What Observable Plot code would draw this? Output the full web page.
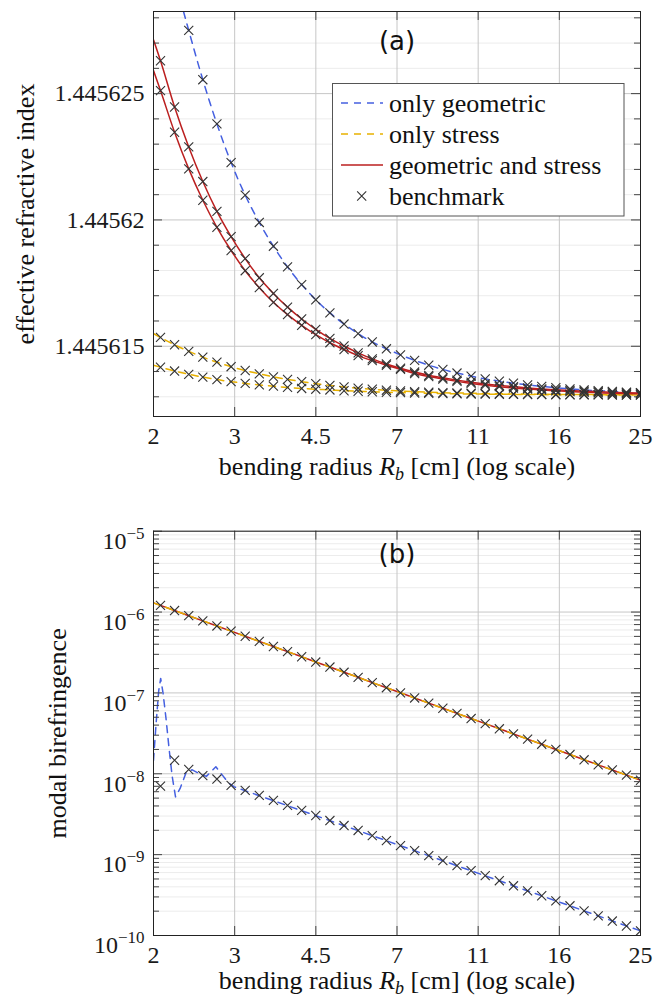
<!DOCTYPE html>
<html>
<head>
<meta charset="utf-8">
<script src="https://cdn.jsdelivr.net/npm/d3@7"></script>
<script src="https://cdn.jsdelivr.net/npm/@observablehq/plot@0.6"></script>
<style>
  body { margin: 0; background: #fff; }
  #wrap { position: relative; width: 664px; height: 1002px; overflow: hidden; }
  #wrap svg { display: block; }
</style>
</head>
<body>
<div id="wrap"></div>
<script>
// ---------------- DATA ----------------
// bending radii of the benchmark points [cm]
const radiusMarkers = [2.074, 2.231, 2.401, 2.583, 2.779, 2.991, 3.218, 3.462, 3.725, 4.008,
  4.313, 4.640, 4.993, 5.373, 5.780, 6.220, 6.693, 7.201, 7.748, 8.337,
  8.970, 9.652, 10.385, 11.174, 12.023, 12.937, 13.920, 14.978, 16.116, 17.341,
  18.659, 20.075, 21.601, 23.242, 25.0];
// radii of the model curves (start at 2 cm, then the benchmark radii)
const radiusCurve = [2.0, ...radiusMarkers];

// (a) effective refractive index, curves sampled at radiusCurve
const neffGeometric = [1.4456343, 1.4456320, 1.4456296, 1.4456275, 1.44562555, 1.4456238, 1.44562227, 1.44562098, 1.4456199, 1.44561896,
  1.44561814, 1.44561744, 1.44561684, 1.44561632, 1.44561588, 1.4456155, 1.44561517, 1.4456149, 1.44561466, 1.44561444,
  1.44561425, 1.44561408, 1.44561394, 1.44561382, 1.44561371, 1.44561362, 1.44561354, 1.44561347, 1.44561341, 1.44561336,
  1.44561331, 1.44561327, 1.44561324, 1.44561321, 1.44561318, 1.44561316];
const neffStressA = [1.4456155, 1.44561535, 1.44561506, 1.4456148, 1.44561457, 1.44561437, 1.44561419, 1.44561404, 1.44561391, 1.44561379,
  1.44561369, 1.4456136, 1.44561352, 1.44561345, 1.44561339, 1.44561334, 1.4456133, 1.44561326, 1.44561323, 1.4456132,
  1.44561318, 1.44561316, 1.44561315, 1.44561314, 1.44561313, 1.44561312, 1.44561311, 1.445613105, 1.4456131, 1.445613095,
  1.44561309, 1.44561309, 1.445613085, 1.445613085, 1.44561308, 1.44561308];
const neffStressB = [1.44561425, 1.44561417, 1.44561402, 1.44561389, 1.44561378, 1.44561368, 1.4456136, 1.44561353, 1.44561347, 1.44561342,
  1.44561337, 1.44561333, 1.4456133, 1.44561327, 1.44561324, 1.44561322, 1.4456132, 1.44561318, 1.445613165, 1.44561315,
  1.44561314, 1.44561313, 1.44561312, 1.44561311, 1.445613105, 1.4456131, 1.445613095, 1.44561309, 1.445613085, 1.44561308,
  1.44561308, 1.445613075, 1.445613075, 1.44561307, 1.44561307, 1.44561307];
const neffCombinedA = [1.44562713, 1.4456263, 1.44562447, 1.44562289, 1.44562152, 1.44562034, 1.44561934, 1.44561847, 1.44561771, 1.44561709,
  1.44561655, 1.44561608, 1.44561567, 1.44561531, 1.44561501, 1.44561474, 1.4456145, 1.4456143, 1.44561413, 1.44561398,
  1.44561385, 1.44561375, 1.44561366, 1.44561358, 1.44561351, 1.44561345, 1.4456134, 1.44561335, 1.44561331, 1.44561328,
  1.44561325, 1.44561322, 1.4456132, 1.44561318, 1.44561316, 1.44561315];
const neffCombinedB = [1.44562591, 1.44562512, 1.44562347, 1.44562202, 1.44562078, 1.44561971, 1.44561879, 1.44561799, 1.44561732, 1.44561674,
  1.44561625, 1.44561583, 1.44561546, 1.44561514, 1.44561487, 1.44561463, 1.44561443, 1.44561425, 1.44561409, 1.44561392,
  1.4456138, 1.4456137, 1.44561361, 1.44561353, 1.44561346, 1.4456134, 1.44561335, 1.44561331, 1.44561327, 1.44561324,
  1.44561321, 1.44561318, 1.44561316, 1.44561314, 1.44561313, 1.44561312];

// (b) modal birefringence
const birefStress = [1.30e-6, 1.209e-6, 1.044e-6, 9.02e-7, 7.79e-7, 6.73e-7, 5.81e-7, 5.02e-7, 4.34e-7, 3.75e-7,
  3.24e-7, 2.80e-7, 2.41e-7, 2.09e-7, 1.80e-7, 1.56e-7, 1.34e-7, 1.16e-7, 1.003e-7, 8.66e-8,
  7.48e-8, 6.46e-8, 5.58e-8, 4.82e-8, 4.17e-8, 3.60e-8, 3.11e-8, 2.68e-8, 2.32e-8, 2.00e-8,
  1.73e-8, 1.49e-8, 1.29e-8, 1.115e-8, 9.63e-9, 8.32e-9];
const birefCombined = [1.30e-6, 1.209e-6, 1.044e-6, 9.02e-7, 7.79e-7, 6.73e-7, 5.81e-7, 5.02e-7, 4.34e-7, 3.75e-7,
  3.24e-7, 2.80e-7, 2.41e-7, 2.09e-7, 1.80e-7, 1.56e-7, 1.34e-7, 1.16e-7, 1.003e-7, 8.66e-8,
  7.48e-8, 6.46e-8, 5.58e-8, 4.82e-8, 4.17e-8, 3.60e-8, 3.11e-8, 2.68e-8, 2.32e-8, 2.00e-8,
  1.73e-8, 1.49e-8, 1.29e-8, 1.115e-8, 9.63e-9, 8.32e-9];
const birefGeometricR = [2.0, 2.028, 2.055, 2.076, 2.102, 2.134, 2.168, 2.202, 2.242, 2.296,
  2.369, 2.445, 2.524, 2.631, 2.700, 2.764, 2.850, 2.950, 3.040, 4.313, 7.201, 12.023, 25.0];
const birefGeometric = [1.46e-8, 4.31e-8, 1.07e-7, 1.51e-7, 9.86e-8, 4.84e-8, 2.06e-8, 9.55e-9, 5.18e-9, 6.59e-9,
  1.04e-8, 1.12e-8, 1.02e-8, 9.29e-9, 1.07e-8, 1.22e-8, 9.84e-9, 7.73e-9, 6.89e-9, 3.50e-9, 1.29e-9, 4.75e-10, 1.14e-10];
const birefBenchGeometric = [7.05e-9, 1.47e-8, 1.13e-8, 9.48e-9, 8.61e-9, 7.19e-9, 6.23e-9, 5.40e-9, 4.68e-9, 4.06e-9,
  3.52e-9, 3.05e-9, 2.64e-9, 2.29e-9, 1.99e-9, 1.72e-9, 1.49e-9, 1.29e-9, 1.12e-9, 9.72e-10,
  8.43e-10, 7.30e-10, 6.33e-10, 5.49e-10, 4.76e-10, 4.12e-10, 3.57e-10, 3.10e-10, 2.68e-10, 2.33e-10,
  2.02e-10, 1.75e-10, 1.51e-10, 1.31e-10, 1.14e-10];

// ticks / labels
const xTickLabels = ["2", "3", "4.5", "7", "11", "16", "25"];
const yTickValuesTop = [1.445615, 1.44562, 1.445625];
const yTickLabelsTop = ["1.445615", "1.44562", "1.445625"];
const yExponentsBottom = [-10, -9, -8, -7, -6, -5];
const legendLabels = ["only geometric", "only stress", "geometric and stress", "benchmark"];
const panelLabels = ["(a)", "(b)"];
const yTitleTop = "effective refractive index";
const yTitleBottom = "modal birefringence";
const X_TITLE = "bending radius R_b [cm] (log scale)";

// ---------------- STYLE ----------------
const SERIF = "Liberation Serif";
const SANS = "DejaVu Sans";
const BLUE = "#4560e0", YELLOW = "#e8b100", RED = "#bb1f1f", MARK = "#333333";
const GRID_MAJOR = "#c6c6c6", GRID_MINOR = "#ececec", TICK = "#444444";
const DASH = "7,6";
const WORD_SIZE = 26;

const W = 664, ML = 153, MR = 24;
const FW = W - ML - MR;

const xTicks = xTickLabels.map((_, i) => 2 * Math.pow(25 / 2, i / 6));
const xLabel = d => xTickLabels[xTicks.findIndex(t => Math.abs(t - d) < 1e-6)];
const pts = (rs, vs) => rs.map((r, i) => ({r, v: vs[i]}));

function tickMarks(yMajor, yMinor, FH) {
  return [
    Plot.tickY(yMinor, {y: d => d, stroke: TICK, insetRight: FW - 6}),
    Plot.tickY(yMinor, {y: d => d, stroke: TICK, insetLeft: FW - 6}),
    Plot.tickY(yMajor, {y: d => d, stroke: TICK, insetRight: FW - 9}),
    Plot.tickY(yMajor, {y: d => d, stroke: TICK, insetLeft: FW - 9}),
    Plot.tickX(xTicks, {x: d => d, stroke: TICK, insetBottom: FH - 9}),
    Plot.tickX(xTicks, {x: d => d, stroke: TICK, insetTop: FH - 9})
  ];
}

// ---------------- PANEL (a) ----------------
const H1 = 490, MT1 = 11, MB1 = 74, FH1 = H1 - MT1 - MB1;
const minorTop = d3.range(0, 16).map(i => 1.445613 + i * 1e-6).filter(v => !yTickValuesTop.some(t => Math.abs(t - v) < 1e-10));
const dotOpts = {x: "r", y: "v", symbol: "times", r: 4.2, stroke: MARK, strokeWidth: 1.1, fill: "none", clip: true};

const plotA = Plot.plot({
  width: W, height: H1, marginLeft: ML, marginRight: MR, marginTop: MT1, marginBottom: MB1,
  style: {fontFamily: SERIF, fontSize: "24px", color: "#1a1a1a", background: "white", overflow: "visible"},
  x: {type: "log", domain: [2, 25]},
  y: {domain: [1.44561222, 1.44562825]},
  marks: [
    Plot.gridY(minorTop, {stroke: GRID_MINOR, strokeOpacity: 1}),
    Plot.gridY(yTickValuesTop, {stroke: GRID_MAJOR, strokeOpacity: 1}),
    Plot.gridX(xTicks, {stroke: GRID_MAJOR, strokeOpacity: 1}),
    Plot.line(pts(radiusCurve, neffGeometric), {x: "r", y: "v", stroke: BLUE, strokeWidth: 1.5, strokeDasharray: DASH, curve: "monotone-x", clip: true}),
    Plot.line(pts(radiusCurve, neffStressA), {x: "r", y: "v", stroke: YELLOW, strokeWidth: 1.5, strokeDasharray: DASH, curve: "monotone-x", clip: true}),
    Plot.line(pts(radiusCurve, neffStressB), {x: "r", y: "v", stroke: YELLOW, strokeWidth: 1.5, strokeDasharray: DASH, curve: "monotone-x", clip: true}),
    Plot.line(pts(radiusCurve, neffCombinedA), {x: "r", y: "v", stroke: RED, strokeWidth: 1.5, curve: "monotone-x", clip: true}),
    Plot.line(pts(radiusCurve, neffCombinedB), {x: "r", y: "v", stroke: RED, strokeWidth: 1.5, curve: "monotone-x", clip: true}),
    Plot.dot(pts(radiusMarkers, neffGeometric.slice(1)), dotOpts),
    Plot.dot(pts(radiusMarkers, neffStressA.slice(1)), dotOpts),
    Plot.dot(pts(radiusMarkers, neffStressB.slice(1)), dotOpts),
    Plot.dot(pts(radiusMarkers, neffCombinedA.slice(1)), dotOpts),
    Plot.dot(pts(radiusMarkers, neffCombinedB.slice(1)), dotOpts),
    ...tickMarks(yTickValuesTop, minorTop, FH1),
    Plot.frame({stroke: "#222", strokeWidth: 1}),
    Plot.axisY({ticks: yTickValuesTop, tickSize: 0, tickPadding: 9, fontSize: 24, fontFamily: SERIF, label: null,
      tickFormat: d => yTickLabelsTop[yTickValuesTop.findIndex(t => Math.abs(t - d) < 1e-10)]}),
    Plot.axisX({ticks: xTicks, tickSize: 0, tickPadding: 10, fontSize: 24, fontFamily: SERIF, label: null, tickFormat: xLabel}),
    Plot.text([panelLabels[0]], {text: d => d, frameAnchor: "top", lineAnchor: "middle", dy: 30, fontFamily: SANS, fontSize: 26, fill: "#111"}),
    Plot.text([yTitleTop], {text: d => d, frameAnchor: "left", textAnchor: "middle", lineAnchor: "middle", dx: -128, rotate: -90, fontFamily: SERIF, fontSize: WORD_SIZE, fill: "#111"}),
    Plot.text([X_TITLE], {text: d => d, frameAnchor: "bottom", lineAnchor: "middle", dy: 50, fontFamily: SERIF, fontSize: WORD_SIZE, fill: "#111"})
  ]
});

// ---------------- PANEL (b) ----------------
const H2 = 512, MT2 = 40.7, MB2 = 67, FH2 = H2 - MT2 - MB2;
const yMajorBottom = yExponentsBottom.map(e => Math.pow(10, e));
const yMinorBottom = yExponentsBottom.slice(0, -1).flatMap(e => d3.range(2, 10).map(m => m * Math.pow(10, e)));

const plotB = Plot.plot({
  width: W, height: H2, marginLeft: ML, marginRight: MR, marginTop: MT2, marginBottom: MB2,
  style: {fontFamily: SERIF, fontSize: "24px", color: "#1a1a1a", background: "white", overflow: "visible"},
  x: {type: "log", domain: [2, 25]},
  y: {type: "log", domain: [1e-10, 1e-5]},
  marks: [
    Plot.gridY(yMinorBottom, {stroke: GRID_MINOR, strokeOpacity: 1}),
    Plot.gridY(yMajorBottom, {stroke: GRID_MAJOR, strokeOpacity: 1}),
    Plot.gridX(xTicks, {stroke: GRID_MAJOR, strokeOpacity: 1}),
    Plot.line(pts(birefGeometricR, birefGeometric), {x: "r", y: "v", stroke: BLUE, strokeWidth: 1.5, strokeDasharray: DASH, clip: true}),
    Plot.line(pts(radiusCurve, birefCombined), {x: "r", y: "v", stroke: RED, strokeWidth: 1.5, clip: true}),
    Plot.line(pts(radiusCurve, birefStress), {x: "r", y: "v", stroke: YELLOW, strokeWidth: 1.5, strokeDasharray: DASH, clip: true}),
    Plot.dot(pts(radiusMarkers, birefCombined.slice(1)), dotOpts),
    Plot.dot(pts(radiusMarkers, birefBenchGeometric), dotOpts),
    ...tickMarks(yMajorBottom, yMinorBottom, FH2),
    Plot.frame({stroke: "#222", strokeWidth: 1}),
    Plot.axisY({ticks: yMajorBottom, tickSize: 0, tickPadding: 9, fontSize: 24, fontFamily: SERIF, label: null,
      tickFormat: d => "10^" + Math.round(Math.log10(d))}),
    Plot.axisX({ticks: xTicks, tickSize: 0, tickPadding: 10, fontSize: 24, fontFamily: SERIF, label: null, tickFormat: xLabel}),
    Plot.text([panelLabels[1]], {text: d => d, frameAnchor: "top", lineAnchor: "middle", dy: 23, fontFamily: SANS, fontSize: 26, fill: "#111"}),
    Plot.text([yTitleBottom], {text: d => d, frameAnchor: "left", textAnchor: "middle", lineAnchor: "middle", dx: -96, rotate: -90, fontFamily: SERIF, fontSize: WORD_SIZE, fill: "#111"}),
    Plot.text([X_TITLE], {text: d => d, frameAnchor: "bottom", lineAnchor: "middle", dy: 45, fontFamily: SERIF, fontSize: WORD_SIZE, fill: "#111"})
  ]
});

// ---------------- rich text post-processing ----------------
function richText(svg) {
  d3.select(svg).selectAll("text").each(function () {
    const s = this.textContent;
    const t = d3.select(this);
    if (s === X_TITLE) {
      t.text(null);
      t.append("tspan").text("bending radius ");
      t.append("tspan").attr("font-style", "italic").text("R");
      t.append("tspan").attr("font-size", "18px").attr("font-style", "italic").attr("dy", 5).text("b");
      t.append("tspan").attr("dy", -5).text(" [cm] (log scale)");
      return;
    }
    const m = /^10\^(-?\d+)$/.exec(s);
    if (m) {
      t.text(null);
      t.attr("dy", "0.42em");
      t.append("tspan").text("10");
      t.append("tspan").attr("font-size", "17px").attr("dy", -10).text(m[1].replace("-", "\u2212"));
    }
  });
}
richText(plotA);
richText(plotB);

// ---------------- legend (inside panel a) ----------------
(function legend(svg) {
  const g = d3.select(svg).append("g").style("font-family", SERIF).style("font-size", WORD_SIZE + "px")
    .attr("fill", "#111").attr("text-anchor", "start");
  g.append("rect").attr("x", 332.5).attr("y", 83.5).attr("width", 291.5).attr("height", 132.5)
    .attr("fill", "white").attr("stroke", "#555").attr("stroke-width", 1);
  const rowsY = [103, 134, 165, 196];
  const styles = [
    {stroke: BLUE, dash: DASH}, {stroke: YELLOW, dash: DASH}, {stroke: RED, dash: null}, {mark: true}
  ];
  legendLabels.forEach((lab, i) => {
    const y = rowsY[i], st = styles[i];
    if (st.mark) {
      const s = d3.symbol(d3.symbolTimes, Math.PI * 4.2 * 4.2)();
      g.append("path").attr("d", s).attr("transform", `translate(361.7,${y})`)
        .attr("fill", "none").attr("stroke", MARK).attr("stroke-width", 1.1);
    } else {
      const l = g.append("line").attr("x1", 341).attr("x2", 383).attr("y1", y).attr("y2", y)
        .attr("stroke", st.stroke).attr("stroke-width", 1.5);
      if (st.dash) l.attr("stroke-dasharray", st.dash);
    }
    g.append("text").attr("x", 389).attr("y", y).attr("dy", "0.33em")
      .attr("text-anchor", "start").text(lab);
  });
})(plotA);

const wrap = document.getElementById("wrap");
wrap.appendChild(plotA);
wrap.appendChild(plotB);
</script>
</body>
</html>
